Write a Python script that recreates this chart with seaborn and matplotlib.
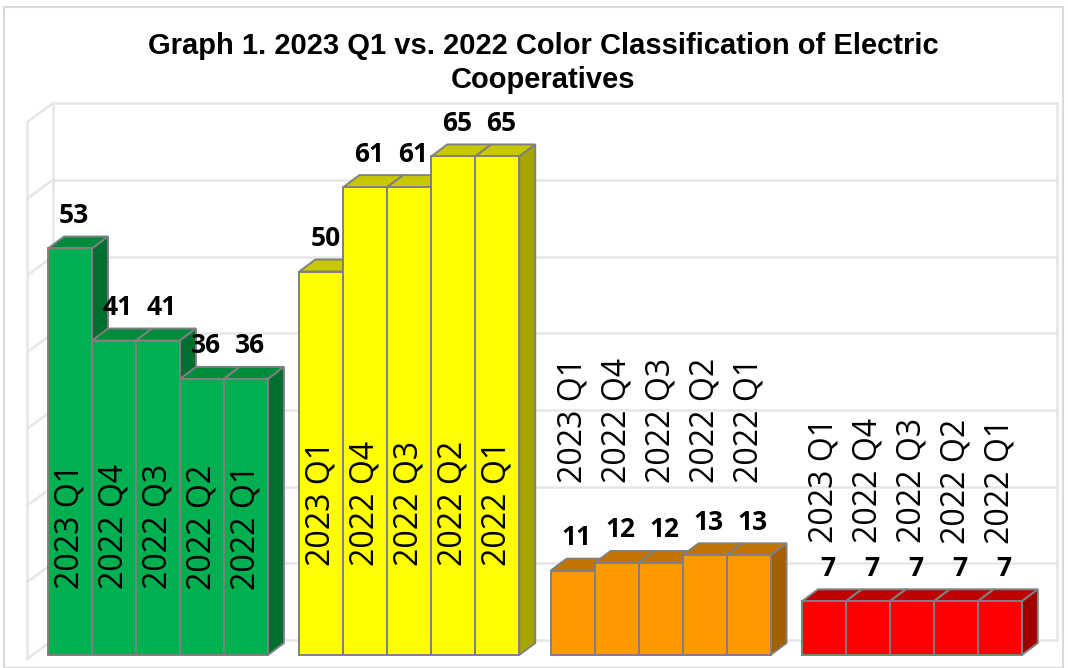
import matplotlib
matplotlib.use("Agg")
import matplotlib.pyplot as plt
from matplotlib.patches import Polygon, Rectangle
import seaborn as sns
import pandas as pd

# data
GROUPS = ["Green", "Yellow", "Orange", "Red"]
QUARTERS = ["2023 Q1", "2022 Q4", "2022 Q3", "2022 Q2", "2022 Q1"]
GREEN = [53, 41, 41, 36, 36]
YELLOW = [50, 61, 61, 65, 65]
ORANGE = [11, 12, 12, 13, 13]
RED = [7, 7, 7, 7, 7]

FRONT = {"Green": "#00b050", "Yellow": "#ffff00", "Orange": "#ff9900", "Red": "#ff0000"}
TOP = {"Green": "#008a3c", "Yellow": "#c8c800", "Orange": "#c27400", "Red": "#c00000"}
SIDE = {"Green": "#006e30", "Yellow": "#a6a600", "Orange": "#a35f00", "Red": "#a00000"}
# height (in value units) of the centre of the rotated quarter labels per group
QLABEL_Y = {"Green": 16.7, "Yellow": 19.8, "Orange": 30.6, "Red": 22.7}

sns.set_theme(style="white")
plt.rcParams["font.family"] = ["Open Sans", "DejaVu Sans"]
plt.rcParams["text.color"] = "black"

df = pd.DataFrame({
    "group": [g for g in GROUPS for _ in QUARTERS],
    "quarter": QUARTERS * len(GROUPS),
    "value": GREEN + YELLOW + ORANGE + RED,
})

W, H = 1068, 668
PX_X, PX_Y = 251.3, 7.67       # pixels per category / per value unit
X0, Y0 = 158, 655              # pixel position of category 0 centre / value 0 (front)


def fx(px):
    return (px - X0) / PX_X


def fy(py):
    return (Y0 - py) / PX_Y


fig = plt.figure(figsize=(W / 100, H / 100), dpi=100)
ax = fig.add_axes([0, 0, 1, 1])

sns.barplot(data=df, x="group", y="value", hue="quarter", order=GROUPS,
            hue_order=QUARTERS, width=0.875, saturation=1, legend=False,
            edgecolor="#808080", linewidth=1.4, ax=ax)

# back wall / side wall of the 3D box
grid_c = "#e6e6e6"
for v in range(0, 80, 10):
    ax.plot([fx(53), fx(1057)], [v + 15 / PX_Y, v + 15 / PX_Y], color=grid_c, lw=1.8, zorder=0.5)
    ax.plot([fx(27), fx(53)], [v - 4 / PX_Y, v + 15 / PX_Y], color=grid_c, lw=1.8, zorder=0.5)
ax.plot([fx(27), fx(27)], [-4 / PX_Y, 70 - 4 / PX_Y], color=grid_c, lw=1.8, zorder=0.5)
ax.plot([fx(53), fx(53)], [15 / PX_Y, 70 + 15 / PX_Y], color=grid_c, lw=1.8, zorder=0.5)
ax.plot([fx(1057), fx(1057)], [15 / PX_Y, 70 + 15 / PX_Y], color=grid_c, lw=1.8, zorder=0.5)

# 3D depth of the bars
dx, dy = 16 / PX_X, 12 / PX_Y
bars = sorted(ax.patches, key=lambda p: p.get_x())
for k, p in enumerate(bars):
    g = GROUPS[k // len(QUARTERS)]
    x, w, h = p.get_x(), p.get_width(), p.get_height()
    z = 2 + k * 0.01
    p.set_facecolor(FRONT[g])
    p.set_zorder(z + 0.003)
    top = Polygon([(x, h), (x + w, h), (x + w + dx, h + dy), (x + dx, h + dy)],
                  closed=True, facecolor=TOP[g], edgecolor="#808080", lw=1.4, zorder=z)
    side = Polygon([(x + w, 0), (x + w + dx, dy), (x + w + dx, h + dy), (x + w, h)],
                   closed=True, facecolor=SIDE[g], edgecolor="#808080", lw=1.4, zorder=z + 0.001)
    ax.add_patch(top)
    ax.add_patch(side)
    cx = x + w / 2
    ax.text(cx + 4 / PX_X, h + 33 / PX_Y, f"{h:.0f}", ha="center", va="center",
            fontsize=19, fontweight="bold", color="black", zorder=10)
    ax.text(cx, QLABEL_Y[g], QUARTERS[k % len(QUARTERS)], rotation=90,
            ha="center", va="center", fontsize=23, color="black", zorder=10)

ax.set_xlim(fx(0), fx(W))
ax.set_ylim(fy(H), fy(0))
ax.axis("off")

fig.text(543 / W, 1 - 46 / H, "Graph 1. 2023 Q1 vs. 2022 Color Classification of Electric",
         ha="center", va="center", fontsize=21, fontweight="bold", family="Liberation Sans",
         color="black")
fig.text(543 / W, 1 - 80 / H, "Cooperatives",
         ha="center", va="center", fontsize=21, fontweight="bold", family="Liberation Sans",
         color="black")

fig.patches.append(Rectangle((4 / W, 0), 1059 / W, 1 - 7 / H, transform=fig.transFigure,
                             fill=False, edgecolor="#d9d9d9", lw=1.5))

fig.savefig("out.png", dpi=100, facecolor="white")
